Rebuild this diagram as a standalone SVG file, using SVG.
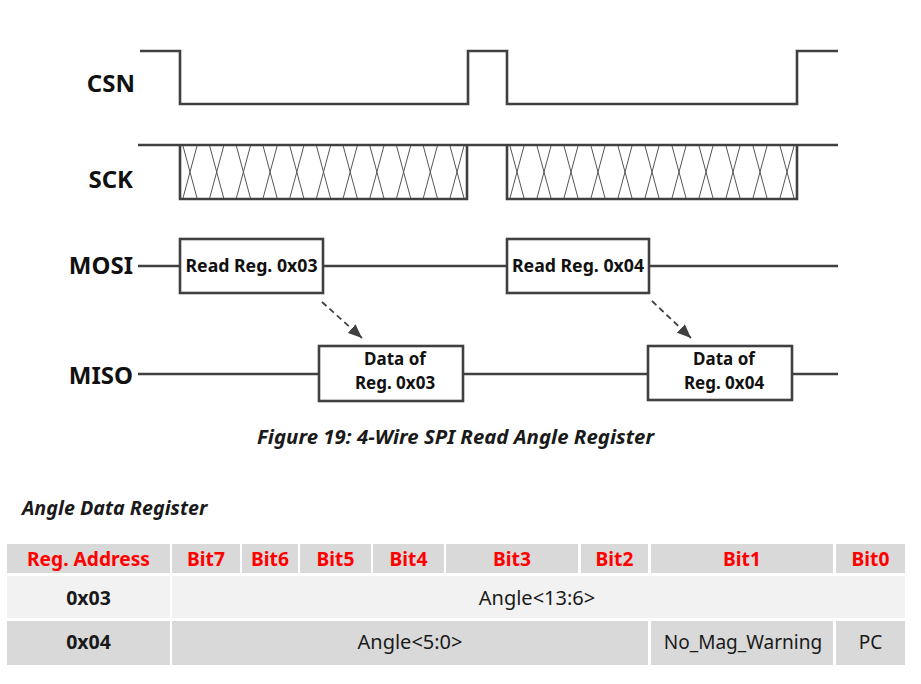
<svg xmlns="http://www.w3.org/2000/svg" width="921" height="684" viewBox="0 0 921 684">
<defs>
<style>
.w{fill:none;stroke:#404040;stroke-width:2.6;stroke-linejoin:miter}
.x{fill:none;stroke:#555;stroke-width:1}
.box{fill:#fff;stroke:#404040;stroke-width:2.6}
.lbl{font-family:"Noto Sans","Liberation Sans",sans-serif;font-weight:bold;font-size:24px;fill:#111;text-anchor:end}
.bt{font-family:"Noto Sans","Liberation Sans",sans-serif;font-weight:bold;font-size:17.7px;fill:#111;text-anchor:middle}
.bd{font-family:"Noto Sans","Liberation Sans",sans-serif;font-weight:bold;font-size:17px;fill:#111;text-anchor:middle}
.cap{font-family:"Noto Sans","Liberation Sans",sans-serif;font-weight:bold;font-style:italic;font-size:20.4px;fill:#1a1a1a}
.ttl{font-family:"Noto Sans","Liberation Sans",sans-serif;font-weight:bold;font-style:italic;font-size:19.7px;fill:#1a1a1a}
.hd{font-family:"Noto Sans","Liberation Sans",sans-serif;font-weight:bold;font-size:19.2px;fill:#ff0000;text-anchor:middle}
.rb{font-family:"Noto Sans","Liberation Sans",sans-serif;font-weight:bold;font-size:19.5px;fill:#1a1a1a;text-anchor:middle}
.rt{font-family:"Noto Sans","Liberation Sans",sans-serif;font-size:19px;fill:#1a1a1a;text-anchor:middle}
.ra{font-family:"Noto Sans","Liberation Sans",sans-serif;font-size:20px;fill:#1a1a1a;text-anchor:middle}
.h{fill:#d9d9d9}
.l{fill:#f2f2f2}
.dash{fill:none;stroke:#404040;stroke-width:1.8;stroke-dasharray:6 4}
</style>
<marker id="ah" markerUnits="userSpaceOnUse" markerWidth="14" markerHeight="12" refX="12" refY="5" orient="auto" viewBox="0 0 12 10">
<path d="M0,0 L12,5 L0,10 Z" fill="#404040"/>
</marker>
</defs>

<g id="csn">
<text class="lbl" x="135" y="92">CSN</text>
<path class="w" d="M140,51 H180 V104 H468 V51 H507 V104 H797 V51 H838"/>
</g>

<g id="sck">
<text class="lbl" x="133" y="188">SCK</text>
<path class="x" d="M183,146 L197,198 M197,146 L183,198 M209.7,146 L223.7,198 M223.7,146 L209.7,198 M236.4,146 L250.4,198 M250.4,146 L236.4,198 M263.1,146 L277.1,198 M277.1,146 L263.1,198 M289.8,146 L303.8,198 M303.8,146 L289.8,198 M316.5,146 L330.5,198 M330.5,146 L316.5,198 M343.2,146 L357.2,198 M357.2,146 L343.2,198 M369.9,146 L383.9,198 M383.9,146 L369.9,198 M396.6,146 L410.6,198 M410.6,146 L396.6,198 M423.3,146 L437.3,198 M437.3,146 L423.3,198 M450,146 L464,198 M464,146 L450,198"/>
<path class="x" d="M510,146 L524,198 M524,146 L510,198 M537,146 L551,198 M551,146 L537,198 M564,146 L578,198 M578,146 L564,198 M591,146 L605,198 M605,146 L591,198 M618,146 L632,198 M632,146 L618,198 M645,146 L659,198 M659,146 L645,198 M672,146 L686,198 M686,146 L672,198 M699,146 L713,198 M713,146 L699,198 M726,146 L740,198 M740,146 L726,198 M753,146 L767,198 M767,146 L753,198 M780,146 L794,198 M794,146 L780,198"/>
<path class="w" d="M138,145 H838 M180,145 V199 H467 V145 M507,145 V199 H797 V145"/>
</g>

<g id="mosi">
<text class="lbl" x="133" y="274">MOSI</text>
<path class="w" d="M138,266 H180 M323,266 H507 M649,266 H838"/>
</g>

<g id="read03">
<rect class="box" x="180" y="239" width="143" height="54"/>
<text class="bt" x="251.5" y="272">Read Reg. 0x03</text>
</g>

<g id="read04">
<rect class="box" x="507" y="239" width="142" height="54"/>
<text class="bt" x="578" y="272">Read Reg. 0x04</text>
</g>

<g id="miso">
<text class="lbl" x="133" y="384">MISO</text>
<path class="w" d="M138,374 H319 M463,374 H648 M792,374 H838"/>
</g>

<g id="data03">
<rect class="box" x="319" y="346" width="144" height="55"/>
<text class="bd" x="395" y="365">Data of</text>
<text class="bd" x="395" y="389">Reg. 0x03</text>
</g>

<g id="data04">
<rect class="box" x="648" y="346" width="144" height="54"/>
<text class="bd" x="724" y="365">Data of</text>
<text class="bd" x="724" y="389">Reg. 0x04</text>
</g>

<g id="connectors">
<path class="dash" d="M322,302 L362,338" marker-end="url(#ah)"/>
<path class="dash" d="M652,301 L691,338" marker-end="url(#ah)"/>
</g>

<g id="caption">
<text class="cap" x="257" y="444">Figure 19: 4-Wire SPI Read Angle Register</text>
</g>

<g id="title">
<text class="ttl" x="22" y="515">Angle Data Register</text>
</g>

<g id="table">
<rect class="h" x="7" y="544" width="163" height="29"/>
<rect class="h" x="172" y="544" width="68" height="29"/>
<rect class="h" x="242" y="544" width="56" height="29"/>
<rect class="h" x="300" y="544" width="71" height="29"/>
<rect class="h" x="373" y="544" width="71" height="29"/>
<rect class="h" x="446" y="544" width="132" height="29"/>
<rect class="h" x="581" y="544" width="67" height="29"/>
<rect class="h" x="651" y="544" width="182" height="29"/>
<rect class="h" x="836" y="544" width="69" height="29"/>
<text class="hd" x="88.5" y="566">Reg. Address</text>
<text class="hd" x="206" y="566">Bit7</text>
<text class="hd" x="270" y="566">Bit6</text>
<text class="hd" x="335.5" y="566">Bit5</text>
<text class="hd" x="408.5" y="566">Bit4</text>
<text class="hd" x="512" y="566">Bit3</text>
<text class="hd" x="614.5" y="566">Bit2</text>
<text class="hd" x="742" y="566">Bit1</text>
<text class="hd" x="870.5" y="566">Bit0</text>

<rect class="l" x="7" y="576" width="163" height="42"/>
<rect class="l" x="172" y="576" width="733" height="42"/>
<text class="rb" x="88.5" y="605">0x03</text>
<text class="ra" x="537" y="605">Angle&lt;13:6&gt;</text>

<rect class="h" x="7" y="621" width="163" height="44"/>
<rect class="h" x="172" y="621" width="476" height="44"/>
<rect class="h" x="651" y="621" width="182" height="44"/>
<rect class="h" x="836" y="621" width="69" height="44"/>
<text class="rb" x="88.5" y="649">0x04</text>
<text class="ra" x="410" y="649">Angle&lt;5:0&gt;</text>
<text class="rt" x="743" y="649">No_Mag_Warning</text>
<text class="rt" x="870.5" y="649">PC</text>
</g>
</svg>
